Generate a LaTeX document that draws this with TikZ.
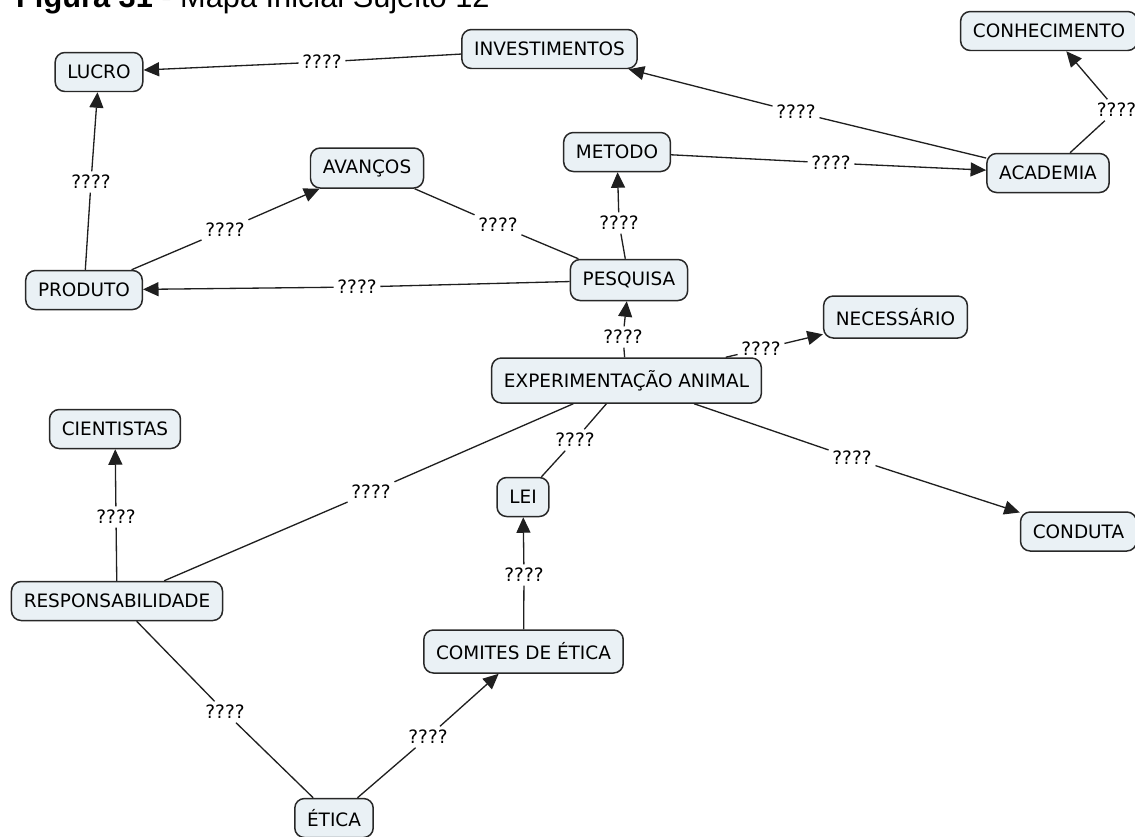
\documentclass[tikz,border=0pt]{standalone}
\usepackage{fontspec}
\setmainfont{DejaVu Sans}
\newfontfamily\titelfont{Liberation Sans}
\usepackage{tikz}
\usetikzlibrary{arrows.meta}
\definecolor{cKonzept}{RGB}{234,241,245}
\definecolor{cRand}{RGB}{40,40,40}

\begin{document}
\begin{tikzpicture}[x=0.02cm,y=-0.02cm,font=\fontsize{10.5}{12}\selectfont,
  konzept/.style={draw=cRand,fill=cKonzept,line width=0.85pt,rounded corners=5.5pt,inner xsep=7pt,inner ysep=0pt,minimum height=0.78cm},
  frage/.style={inner sep=2pt},
  linie/.style={draw=black!88,line width=0.75pt},
  pfeil/.style={-{Triangle[length=0.31cm,width=0.28cm]}}]
\useasboundingbox (0,0) rectangle (1135,836);
\clip (0,0) rectangle (1135,836);
\node[anchor=base west,font=\titelfont\fontsize{17.5}{20}\selectfont] (titel) at (10,7) {\textbf{Figura 31} - Mapa Inicial Sujeito 12};
\node[konzept] (lucro) at (99,72) {LUCRO};
\node[konzept] (invest) at (549.5,49) {INVESTIMENTOS};
\node[konzept] (conhec) at (1049,31) {CONHECIMENTO};
\node[konzept] (academia) at (1048,173) {ACADEMIA};
\node[konzept] (metodo) at (617,152) {METODO};
\node[konzept,minimum height=0.8cm] (avancos) at (367,168) {AVANÇOS};
\node[konzept] (produto) at (84,290) {PRODUTO};
\node[konzept,minimum height=0.82cm] (pesquisa) at (629,280) {PESQUISA};
\node[konzept,minimum height=0.9cm] (exper) at (626.5,380.5) {EXPERIMENTAÇÃO ANIMAL};
\node[konzept,minimum height=0.84cm] (necess) at (895.5,317) {NECESSÁRIO};
\node[konzept] (cient) at (115,429) {CIENTISTAS};
\node[konzept] (resp) at (117,601) {RESPONSABILIDADE};
\node[konzept] (lei) at (523,497) {LEI};
\node[konzept,minimum height=0.86cm] (comites) at (523.5,651.5) {COMITES DE ÉTICA};
\node[konzept] (etica) at (334,818) {ÉTICA};
\node[konzept] (conduta) at (1078.5,531.5) {CONDUTA};
\node[frage] (f1) at (322,62) {????};
\node[frage] (f2) at (796,112) {????};
\node[frage] (f3) at (1116.5,110) {????};
\node[frage] (f4) at (831,163) {????};
\node[frage] (f5) at (619,223) {????};
\node[frage] (f6) at (498,225) {????};
\node[frage] (f7) at (225,230) {????};
\node[frage] (f8) at (357,287) {????};
\node[frage] (f9) at (91,182) {????};
\node[frage] (f10) at (623,337) {????};
\node[frage] (f11) at (761,349) {????};
\node[frage] (f12) at (852,458) {????};
\node[frage] (f13) at (575,440) {????};
\node[frage] (f14) at (371,492) {????};
\node[frage] (f15) at (116,517) {????};
\node[frage] (f16) at (225,712) {????};
\node[frage] (f17) at (428,737) {????};
\node[frage] (f18) at (524,575) {????};
\draw[linie] (invest) -- (f1); \draw[linie,pfeil] (f1) -- (lucro);
\draw[linie] (academia) -- (f2); \draw[linie,pfeil] (f2) -- (invest);
\draw[linie] (academia) -- (f3); \draw[linie,pfeil] (f3) -- (conhec);
\draw[linie] (metodo) -- (f4); \draw[linie,pfeil] (f4) -- (academia);
\draw[linie] (pesquisa) -- (f5); \draw[linie,pfeil] (f5) -- (metodo);
\draw[linie] (pesquisa) -- (f6); \draw[linie] (f6) -- (avancos);
\draw[linie] (produto) -- (f7); \draw[linie,pfeil] (f7) -- (avancos);
\draw[linie] (pesquisa) -- (f8); \draw[linie,pfeil] (f8) -- (produto);
\draw[linie] (produto) -- (f9); \draw[linie,pfeil] (f9) -- (lucro);
\draw[linie] (exper) -- (f10); \draw[linie,pfeil] (f10) -- (pesquisa);
\draw[linie] (exper) -- (f11); \draw[linie,pfeil] (f11) -- (necess);
\draw[linie] (exper) -- (f12); \draw[linie,pfeil] (f12) -- (conduta);
\draw[linie] (exper) -- (f13); \draw[linie] (f13) -- (lei);
\draw[linie] (exper) -- (f14); \draw[linie] (f14) -- (resp);
\draw[linie] (resp) -- (f15); \draw[linie,pfeil] (f15) -- (cient);
\draw[linie] (resp) -- (f16); \draw[linie] (f16) -- (etica);
\draw[linie] (etica) -- (f17); \draw[linie,pfeil] (f17) -- (comites);
\draw[linie] (comites) -- (f18); \draw[linie,pfeil] (f18) -- (lei);
\end{tikzpicture}
\end{document}
